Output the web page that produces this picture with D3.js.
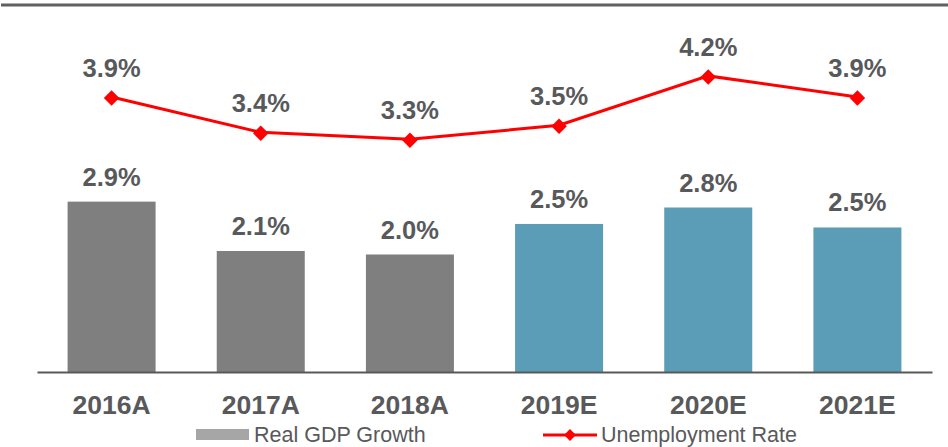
<!DOCTYPE html>
<html>
<head>
<meta charset="utf-8">
<script src="https://cdn.jsdelivr.net/npm/d3@7"></script>
<style>
  body { margin: 0; background: #fff; }
  svg { display: block; font-family: "Liberation Sans", Arial, sans-serif; }
</style>
</head>
<body>
<div id="chart"></div>
<script>
const years = ["2016A", "2017A", "2018A", "2019E", "2020E", "2021E"];
const gdpGrowth = [2.9, 2.06, 2.0, 2.52, 2.8, 2.46];
const unemployment = [3.9, 3.4, 3.3, 3.5, 4.2, 3.9];
const estimated = [false, false, false, true, true, true];

function main(){
    let width = 948;
    let height = 447;
    let textColor = "#58595b";

    let svg = d3.select("#chart").append("svg")
        .attr("width", width)
        .attr("height", height);

    // top rule
    svg.append("line")
        .attr("x1", 1).attr("x2", width)
        .attr("y1", 5).attr("y2", 5)
        .attr("stroke", "#606060")
        .attr("stroke-width", 3);

    let x = d3.scaleBand()
        .domain(years)
        .range([37, 932])
        .paddingInner(0.41)
        .paddingOuter(0.205);

    let yGdp = d3.scaleLinear().domain([0, 6]).range([372, 19.5]);
    let yUnemp = d3.scaleLinear().domain([0, 5]).range([372, 19.5]);

    let data = years.map(function(y, i){
        return {year: y, gdp: gdpGrowth[i], unemp: unemployment[i], est: estimated[i]};
    });

    // bars
    svg.selectAll("rect.bar")
        .data(data)
        .enter()
        .append("rect")
        .attr("class", "bar")
        .attr("x", function(d){ return x(d.year); })
        .attr("y", function(d){ return yGdp(d.gdp); })
        .attr("width", x.bandwidth())
        .attr("height", function(d){ return yGdp(0) - yGdp(d.gdp); })
        .attr("fill", function(d){ return d.est ? "#5b9cb6" : "#7f7f7f"; });

    svg.selectAll("text.barlabel")
        .data(data)
        .enter()
        .append("text")
        .attr("class", "barlabel")
        .attr("x", function(d){ return x(d.year) + x.bandwidth() / 2; })
        .attr("y", function(d){ return yGdp(d.gdp) - 16; })
        .attr("text-anchor", "middle")
        .attr("font-size", 25.5)
        .attr("font-weight", "bold")
        .attr("fill", textColor)
        .text(function(d){ return d.gdp.toFixed(1) + "%"; });

    // x axis
    let xAxis = d3.axisBottom(x).tickSize(0).tickPadding(23);
    let axisG = svg.append("g")
        .attr("transform", "translate(0,372)")
        .call(xAxis);
    axisG.select(".domain")
        .attr("stroke", "#595959")
        .attr("stroke-width", 2);
    axisG.selectAll("text")
        .attr("font-size", 26.5)
        .attr("font-weight", "bold")
        .attr("font-family", "Liberation Sans, Arial, sans-serif")
        .attr("fill", textColor);

    // unemployment line
    let cx = function(d){ return x(d.year) + x.bandwidth() / 2; };
    let line = d3.line()
        .x(cx)
        .y(function(d){ return yUnemp(d.unemp); });

    svg.append("path")
        .datum(data)
        .attr("d", line)
        .attr("fill", "none")
        .attr("stroke", "#ff0000")
        .attr("stroke-width", 3);

    let diamond = d3.symbol().type(d3.symbolSquare).size(120);
    svg.selectAll("path.marker")
        .data(data)
        .enter()
        .append("path")
        .attr("class", "marker")
        .attr("d", diamond)
        .attr("transform", function(d){
            return "translate(" + cx(d) + "," + (yUnemp(d.unemp) + 1) + ") rotate(45)";
        })
        .attr("fill", "#ff0000");

    svg.selectAll("text.linelabel")
        .data(data)
        .enter()
        .append("text")
        .attr("class", "linelabel")
        .attr("x", cx)
        .attr("y", function(d){ return yUnemp(d.unemp) - 20; })
        .attr("text-anchor", "middle")
        .attr("font-size", 25.5)
        .attr("font-weight", "bold")
        .attr("fill", textColor)
        .text(function(d){ return d.unemp.toFixed(1) + "%"; });

    // legend
    let legend = svg.append("g").attr("font-size", 21.5).attr("fill", textColor);
    legend.append("rect")
        .attr("x", 196).attr("y", 429)
        .attr("width", 53).attr("height", 11)
        .attr("fill", "#a6a6a6");
    legend.append("text")
        .attr("x", 254).attr("y", 442)
        .text("Real GDP Growth");

    legend.append("line")
        .attr("x1", 543).attr("x2", 597)
        .attr("y1", 435).attr("y2", 435)
        .attr("stroke", "#ff0000")
        .attr("stroke-width", 3);
    legend.append("path")
        .attr("d", d3.symbol().type(d3.symbolSquare).size(70))
        .attr("transform", "translate(570,435) rotate(45)")
        .attr("fill", "#ff0000");
    legend.append("text")
        .attr("x", 601).attr("y", 442)
        .text("Unemployment Rate");
}

main();
</script>
</body>
</html>
